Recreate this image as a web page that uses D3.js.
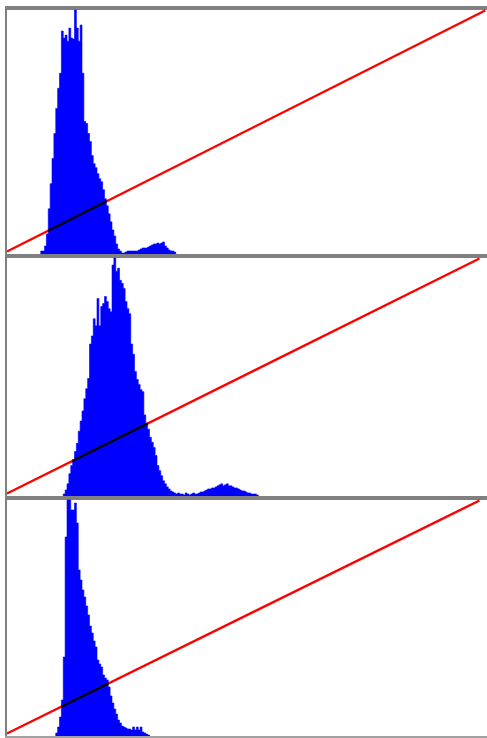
<!DOCTYPE html>
<head>
  <meta charset="utf-8">
  <style>
    body { margin: 0; background: #fff; }
    .curve { mix-blend-mode: multiply; }
  </style>
</head>
<body>
  <script src="https://cdn.jsdelivr.net/npm/d3@7"></script>
  <script>
    const width = 487;
    const height = 738;
    const plotLeft = 7;
    const plotRight = 487;
    const binCount = 256;

    // histogram counts per channel, first bin index + values
    const redStart = 18;
    const redCounts = [3, 3, 8, 20, 45, 70, 95, 120, 145, 165, 180, 222, 215, 218, 212, 225,
      215, 214, 243, 225, 212, 228, 180, 132, 130, 120, 112, 98, 90, 86, 80, 75, 72, 64, 55,
      48, 40, 32, 24, 18, 10, 5, 3, 1, 1, 2, 3, 3, 3, 3, 3, 3, 4, 5, 6, 6, 6, 7, 8, 9, 10, 10,
      11, 10, 11, 12, 8, 6, 4, 3, 3, 2];

    const greenStart = 30;
    const greenCounts = [2, 6, 12, 22, 30, 36, 44, 52, 64, 74, 84, 96, 106, 116, 150, 158, 175,
      168, 195, 168, 187, 190, 197, 192, 185, 182, 228, 235, 222, 225, 213, 210, 205, 192, 185,
      180, 150, 140, 123, 115, 110, 105, 103, 80, 72, 66, 58, 53, 48, 40, 30, 25, 20, 15, 12, 9,
      7, 5, 4, 3, 2, 3, 2, 2, 1, 3, 2, 1, 2, 3, 2, 2, 3, 4, 4, 5, 6, 7, 7, 8, 8, 9, 10, 11, 12,
      10, 11, 12, 10, 10, 9, 8, 8, 7, 6, 5, 5, 4, 3, 3, 2, 2, 2, 1];

    const blueStart = 26;
    const blueCounts = [3, 9, 19, 36, 79, 199, 236, 236, 226, 226, 233, 213, 166, 156, 146, 139,
      130, 121, 110, 103, 95, 89, 76, 72, 69, 61, 58, 56, 49, 40, 33, 27, 22, 16, 13, 10, 9, 8,
      7, 7, 6, 9, 6, 9, 6, 9, 4, 3, 2, 1];

    // curve end points (input level -> output level)
    const redCurve = [[0, 0], [255, 255]];
    const greenCurve = [[0, 0], [252, 255]];
    const blueCurve = [[0, 0], [252, 255]];

    const panelTops = [10, 258, 500];
    const panelBottoms = [254, 496, 736];

    const panels = [
      {start: redStart, counts: redCounts, curve: redCurve},
      {start: greenStart, counts: greenCounts, curve: greenCurve},
      {start: blueStart, counts: blueCounts, curve: blueCurve}
    ];

    const svg = d3.select("body").append("svg")
      .attr("width", width)
      .attr("height", height);

    const xScale = d3.scaleLinear().domain([0, binCount]).range([plotLeft, plotRight]);

    panels.forEach((p, k) => {
      const top = panelTops[k];
      const bottom = panelBottoms[k];
      const bins = p.counts.map((c, i) => ({bin: p.start + i, count: c}));
      // repeat last count so the step closes the final bin
      bins.push({bin: p.start + p.counts.length, count: p.counts[p.counts.length - 1]});
      const yScale = d3.scaleLinear()
        .domain([0, d3.max(p.counts)])
        .range([bottom, top]);

      const g = svg.append("g").attr("class", "panel");

      // grey frame strip above each panel
      g.append("rect")
        .attr("x", 5).attr("y", top - 4)
        .attr("width", plotRight - 5).attr("height", 4)
        .attr("fill", "#808080");

      const area = d3.area()
        .curve(d3.curveStepAfter)
        .x(d => xScale(d.bin))
        .y0(bottom)
        .y1(d => yScale(d.count));

      g.append("path")
        .datum(bins)
        .attr("class", "hist")
        .attr("d", area)
        .attr("fill", "#0000ff")
        .attr("stroke", "#0000ff")
        .attr("stroke-width", 0.6);

      const curveY = d3.scaleLinear().domain([0, 255]).range([bottom - 2.5, top + 0.5]);
      g.append("path")
        .attr("class", "curve")
        .attr("d", d3.line().x(d => xScale(d[0])).y(d => curveY(d[1]))(p.curve))
        .attr("fill", "none")
        .attr("stroke", "#ff0000")
        .attr("stroke-width", 2.4);
    });

    // left edge and bottom line
    svg.append("rect").attr("x", 5).attr("y", 6).attr("width", 2).attr("height", 732)
      .attr("fill", "#808080");
    svg.append("rect").attr("x", 5).attr("y", 736).attr("width", plotRight - 5).attr("height", 2)
      .attr("fill", "#a0a0a0");
  </script>
</body>
